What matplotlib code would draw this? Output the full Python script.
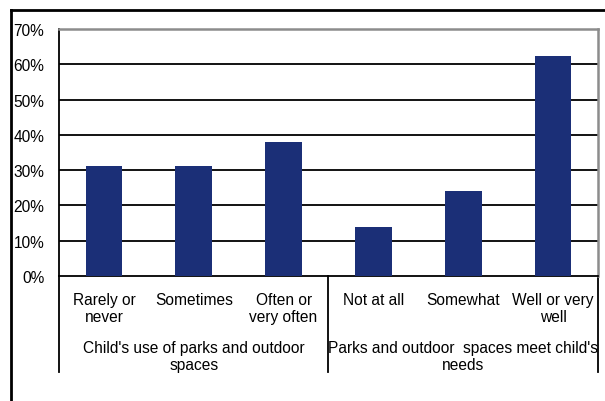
import matplotlib.pyplot as plt
from matplotlib.lines import Line2D
import matplotlib.transforms as mtransforms

plt.rcParams['font.family'] = ['Liberation Sans', 'DejaVu Sans']

categories = ['Rarely or\nnever', 'Sometimes', 'Often or\nvery often',
              'Not at all', 'Somewhat', 'Well or very\nwell']
values = [31.2, 31.2, 38.0, 13.9, 24.1, 62.4]
groups = ["Child's use of parks and outdoor\nspaces",
          "Parks and outdoor  spaces meet child's\nneeds"]
yticks = [0, 10, 20, 30, 40, 50, 60, 70]

W, H = 605, 402
FS = 11.2
fig = plt.figure(figsize=(W / 100, H / 100), dpi=100)
ax = fig.add_axes([59 / W, (H - 277) / H, (598 - 59) / W, (277 - 30) / H])

x = list(range(len(categories)))
ax.bar(x, values, width=0.41, color='#1b2f77', zorder=3)
ax.set_xlim(-0.5, len(categories) - 0.5)
ax.set_ylim(0, 70)

ax.set_yticks(yticks)
ax.set_yticklabels([f'{v}%' for v in yticks], fontsize=FS)
ax.tick_params(axis='y', length=0, pad=10.5)
ax.set_xticks(x)
ax.set_xticklabels(categories, fontsize=FS, linespacing=1.15)
ax.tick_params(axis='x', length=0, pad=11.5)

for v in yticks[1:-1]:
    ax.axhline(v, color='black', lw=1.3, zorder=1)
ax.spines['top'].set_color('#8c8c8c')
ax.spines['right'].set_color('#8c8c8c')
ax.spines['top'].set_linewidth(1.8)
ax.spines['right'].set_linewidth(1.8)
ax.spines['left'].set_linewidth(1.3)
ax.spines['bottom'].set_linewidth(1.3)

# category group separators below the axis
trans = mtransforms.blended_transform_factory(ax.transData, fig.transFigure)
for xs in [-0.5, 2.5, 5.5]:
    ax.add_line(Line2D([xs, xs], [(H - 277) / H, (H - 373) / H], transform=trans,
                       color='black', lw=1.3, clip_on=False))
ax.text(1.0, (H - 357) / H, groups[0], transform=trans, ha='center', va='center',
        fontsize=FS, linespacing=1.15)
ax.text(4.0, (H - 357) / H, groups[1], transform=trans, ha='center', va='center',
        fontsize=FS, linespacing=1.15)

# outer frame
fig.add_artist(Line2D([11 / W, 1], [(H - 11) / H, (H - 11) / H], color='black', lw=2))
fig.add_artist(Line2D([11 / W, 11 / W], [(H - 11) / H, 0], color='black', lw=2))

fig.savefig('out.png', dpi=100)
